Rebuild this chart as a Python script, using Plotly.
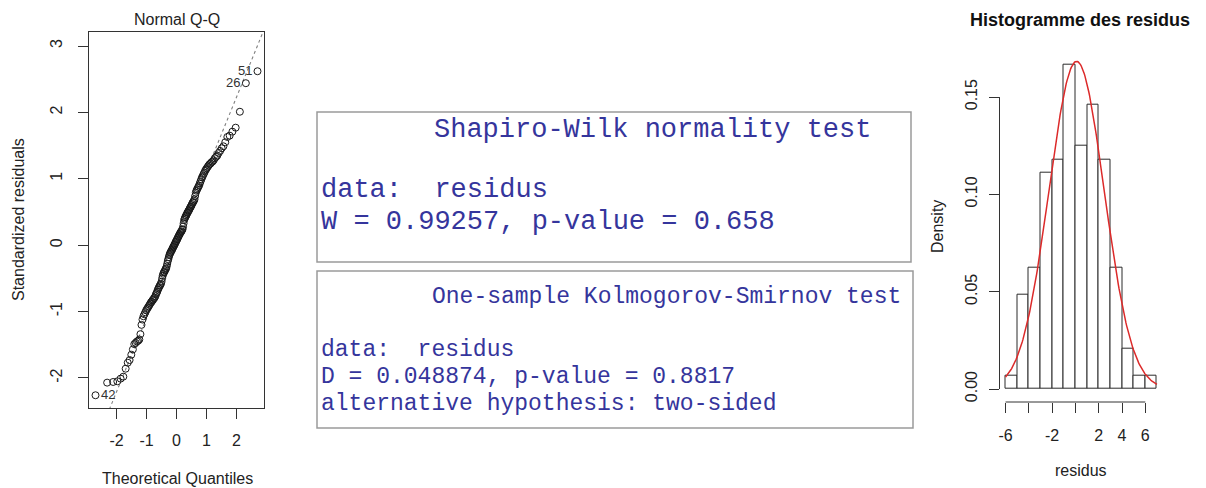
import math
from statistics import NormalDist
import plotly.graph_objects as go

W, H = 1206, 488
OFF = 8                     # default page margin of the html body
FW, FH = W - OFF, H - OFF   # figure size that fills the visible window

# ---------------- data ----------------
# sorted standardized residuals (Normal Q-Q panel)
qq_std_resid = [
    -2.26, -2.07, -2.06, -2.05, -2.01, -1.98, -1.86, -1.77, -1.73, -1.65, -1.57, -1.49,
    -1.47, -1.45, -1.44, -1.42, -1.34, -1.20,
    -1.12, -1.07, -1.04, -1.01, -0.98, -0.96, -0.94, -0.92, -0.90, -0.88, -0.86, -0.85,
    -0.83, -0.82, -0.80, -0.79,
    -0.77, -0.74, -0.72, -0.70, -0.67, -0.65, -0.63, -0.61, -0.60, -0.58, -0.55, -0.50,
    -0.46, -0.43, -0.41, -0.40, -0.38, -0.36, -0.35,
    -0.32, -0.28, -0.24, -0.21, -0.18, -0.15, -0.13, -0.11, -0.10, -0.08, -0.07, -0.05,
    -0.03, -0.02, 0.00, 0.01, 0.03, 0.05, 0.06,
    0.08, 0.09, 0.11, 0.13, 0.14, 0.16, 0.17, 0.19, 0.20, 0.21, 0.23, 0.24, 0.28, 0.33,
    0.38, 0.40, 0.42, 0.44, 0.45, 0.47, 0.49,
    0.50, 0.52, 0.53, 0.55, 0.57, 0.58, 0.60, 0.62, 0.64, 0.65, 0.67, 0.69, 0.74, 0.79,
    0.82, 0.84, 0.86, 0.88, 0.90,
    0.93, 0.96, 0.99, 1.02, 1.04, 1.07, 1.09, 1.12, 1.14, 1.16, 1.18, 1.20, 1.22, 1.23,
    1.25, 1.26, 1.28, 1.31, 1.33, 1.35,
    1.39, 1.42, 1.46, 1.49, 1.55, 1.63, 1.65, 1.71, 1.77, 2.01, 2.44, 2.62,
]
qq_label_text = ["42", "26", "51"]
qq_label_rank = [0, 142, 143]          # positions in the sorted residuals
qq_label_side = ["right", "left", "left"]
qq_line_intercept = 0.01
qq_line_slope = 1.11
qq_xticks = [-2, -1, 0, 1, 2]
qq_yticks = [-2, -1, 0, 1, 2, 3]

# histogram of residuals (density scale)
hist_breaks = [-6, -5, -4, -3, -2, -1, 0, 1, 2, 3, 4, 5, 6, 7]
hist_counts = [1, 7, 9, 16, 17, 24, 18, 21, 17, 9, 3, 1, 1]
hist_xticks = [-6, -4, -2, 0, 2, 4, 6]
hist_xticktext = ["-6", "", "-2", "", "2", "4", "6"]
hist_yticks = [0.00, 0.05, 0.10, 0.15]
hist_yticktext = ["0.00", "0.05", "0.10", "0.15"]
norm_mean = 0.1
norm_sd = 2.37

# test outputs
sw_lines = ["Shapiro-Wilk normality test", "data:\u00a0\u00a0residus",
            "W = 0.99257, p-value = 0.658"]
ks_lines = ["One-sample Kolmogorov-Smirnov test", "data:\u00a0\u00a0residus",
            "D = 0.048874, p-value = 0.8817", "alternative hypothesis: two-sided"]

# ---------------- helpers ----------------
def px(x):
    return (x - OFF) / FW

def py(y):
    return 1 - (y - OFF) / FH

AX_FONT = dict(family="Liberation Sans, Arial, sans-serif", size=16, color="#222")
MONO = "Courier New, Liberation Mono, monospace"
TXT_BLUE = "#35359c"

fig = go.Figure()

# ---------------- Q-Q panel ----------------
n = len(qq_std_resid)
nd = NormalDist()
theo = [nd.inv_cdf((i + 0.5) / n) for i in range(n)]

qq_xrange = [-2.916, 2.916]
qq_yrange = [-2.452, 3.211]

line_x = qq_xrange
line_y = [qq_line_intercept + qq_line_slope * v for v in line_x]
fig.add_trace(go.Scatter(x=line_x, y=line_y, mode="lines",
                         line=dict(color="#808080", width=1.1, dash="dot"),
                         xaxis="x", yaxis="y", showlegend=False, hoverinfo="skip"))
fig.add_trace(go.Scatter(x=theo, y=qq_std_resid, mode="markers",
                         marker=dict(symbol="circle-open", size=7, color="#1a1a1a",
                                     line=dict(width=1)),
                         xaxis="x", yaxis="y", showlegend=False))

annotations = []
for txt, r, side in zip(qq_label_text, qq_label_rank, qq_label_side):
    annotations.append(dict(
        x=theo[r], y=qq_std_resid[r], xref="x", yref="y", text=txt, showarrow=False,
        xanchor="left" if side == "right" else "right",
        xshift=4 if side == "right" else -4, yshift=1,
        font=dict(family=AX_FONT["family"], size=13, color="#333")))

# ---------------- histogram panel ----------------
n_hist = sum(hist_counts)
centers = [(a + b) / 2 for a, b in zip(hist_breaks[:-1], hist_breaks[1:])]
widths = [b - a for a, b in zip(hist_breaks[:-1], hist_breaks[1:])]
dens = [c / (n_hist * w) for c, w in zip(hist_counts, widths)]
fig.add_trace(go.Bar(x=centers, y=dens, width=widths,
                     marker=dict(color="white", line=dict(color="#2a2a2a", width=1)),
                     xaxis="x2", yaxis="y2", showlegend=False))

cx0, cx1 = hist_breaks[0], hist_breaks[-1]
steps = 200
curve_x = [cx0 + (cx1 - cx0) * k / steps for k in range(steps + 1)]
curve_y = [math.exp(-0.5 * ((v - norm_mean) / norm_sd) ** 2) / (norm_sd * math.sqrt(2 * math.pi))
           for v in curve_x]
fig.add_trace(go.Scatter(x=curve_x, y=curve_y, mode="lines",
                         line=dict(color="#dc2a2a", width=1.5),
                         xaxis="x2", yaxis="y2", showlegend=False))

hist_xrange = [-6.52, 7.52]
hist_yrange = [-0.00667, 0.1733]

# ---------------- layout ----------------
common_tick = dict(ticks="outside", ticklen=10, tickwidth=1, tickcolor="#333",
                   tickfont=AX_FONT, showgrid=False, zeroline=False)

fig.update_layout(
    width=FW, height=FH, margin=dict(l=0, r=0, t=0, b=0),
    paper_bgcolor="white", plot_bgcolor="white", showlegend=False,
    xaxis=dict(domain=[px(89), px(264)], range=qq_xrange, tickvals=qq_xticks,
               ticktext=[str(v) for v in qq_xticks], showline=True, mirror=True,
               linecolor="#333", linewidth=1, anchor="y", ticklabelstandoff=8,
               **common_tick),
    yaxis=dict(domain=[py(408), py(32)], range=qq_yrange, tickvals=qq_yticks,
               ticktext=[str(v) for v in qq_yticks], showline=True, mirror=True,
               linecolor="#333", linewidth=1, anchor="x", tickangle=-90,
               ticklabelstandoff=10, **common_tick),
    xaxis2=dict(domain=[px(999.5), px(1163)], range=hist_xrange, tickvals=hist_xticks,
                ticktext=hist_xticktext, showline=False, anchor="y2",
                ticklabelstandoff=9, **common_tick),
    yaxis2=dict(domain=[py(402), py(51.7)], range=hist_yrange, tickvals=hist_yticks,
                ticktext=hist_yticktext, showline=False, anchor="x2", tickangle=-90,
                ticklabelstandoff=5, **common_tick),
    bargap=0,
)

shapes = [
    # R-style axis lines spanning only the tick range (histogram)
    dict(type="line", xref="x2", yref="y2 domain", x0=hist_xticks[0], x1=hist_xticks[-1],
         y0=0, y1=0, line=dict(color="#333", width=1)),
    dict(type="line", xref="x2 domain", yref="y2", x0=0, x1=0, y0=hist_yticks[0],
         y1=hist_yticks[-1], line=dict(color="#333", width=1)),
    # text output boxes
    dict(type="rect", xref="paper", yref="paper", x0=px(317), x1=px(911), y0=py(262),
         y1=py(112), line=dict(color="#9a9a9a", width=1.5), fillcolor="rgba(0,0,0,0)"),
    dict(type="rect", xref="paper", yref="paper", x0=px(317), x1=px(913), y0=py(428),
         y1=py(271), line=dict(color="#9a9a9a", width=1.5), fillcolor="rgba(0,0,0,0)"),
]


def ann(text, x, y, size=16, angle=0, bold=False, family=None, color="#222",
        xanchor="center"):
    return dict(text=f"<b>{text}</b>" if bold else text, x=px(x), y=py(y),
                xref="paper", yref="paper", showarrow=False, textangle=angle,
                xanchor=xanchor, yanchor="middle",
                font=dict(family=family or AX_FONT["family"], size=size, color=color))

annotations += [
    ann("Normal Q-Q", 177, 19),
    ann("Theoretical Quantiles", 177, 478),
    ann("Standardized residuals", 18, 220, angle=-90),
    ann("Histogramme des residus", 1080, 20, size=18, bold=True, color="#111"),
    ann("Density", 937, 227, angle=-90),
    ann("residus", 1081, 470),
]

# Shapiro-Wilk box
annotations.append(ann(sw_lines[0], 432, 130, size=27, family=MONO, color=TXT_BLUE, xanchor="left"))
annotations.append(ann(sw_lines[1], 319, 190, size=27, family=MONO, color=TXT_BLUE, xanchor="left"))
annotations.append(ann(sw_lines[2], 319, 222, size=27, family=MONO, color=TXT_BLUE, xanchor="left"))
# Kolmogorov-Smirnov box
annotations.append(ann(ks_lines[0], 430, 297, size=23, family=MONO, color=TXT_BLUE, xanchor="left"))
annotations.append(ann(ks_lines[1], 319, 350, size=23, family=MONO, color=TXT_BLUE, xanchor="left"))
annotations.append(ann(ks_lines[2], 319, 377, size=23, family=MONO, color=TXT_BLUE, xanchor="left"))
annotations.append(ann(ks_lines[3], 319, 404, size=23, family=MONO, color=TXT_BLUE, xanchor="left"))

fig.update_layout(shapes=shapes, annotations=annotations)
fig.write_html("out.html")
